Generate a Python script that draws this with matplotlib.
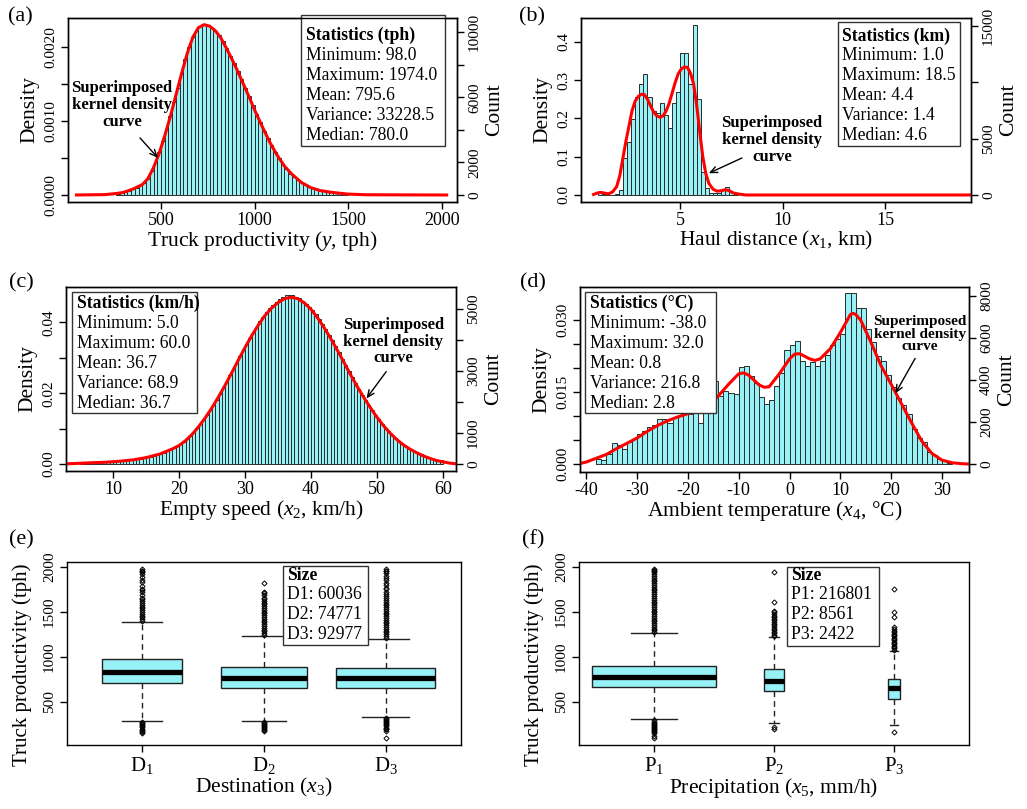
import numpy as np
import matplotlib
matplotlib.use("Agg")
import matplotlib.pyplot as plt
from matplotlib.patches import Rectangle

plt.rcParams['font.family'] = ['Liberation Serif', 'DejaVu Serif']
plt.rcParams['mathtext.fontset'] = 'custom'
plt.rcParams['mathtext.rm'] = 'Liberation Serif'
plt.rcParams['mathtext.it'] = 'Liberation Serif:italic'
plt.rcParams['mathtext.bf'] = 'Liberation Serif:bold'
plt.rcParams['axes.unicode_minus'] = False
plt.rcParams['axes.linewidth'] = 1.0

# sample sizes
dest_names = ['D$_1$', 'D$_2$', 'D$_3$']
dest_sizes = [60036, 74771, 92977]
prec_names = ['P$_1$', 'P$_2$', 'P$_3$']
prec_sizes = [216801, 8561, 2422]
n_total = sum(dest_sizes)

# (a) truck productivity, bins of 20 tph from 260
prod_bin_start = 260
prod_bin_width = 20
prod_density = np.array([
    0.2, 0.3, 0.4, 0.6, 0.8, 1.0, 1.3, 1.6, 2.2, 3.2, 4.4, 5.8, 7.3, 8.9, 10.7, 12.6,
    14.5, 16.4, 18.3, 20.0, 21.3, 22.2, 22.8, 23.0, 22.9, 22.6, 22.2, 21.6, 20.8, 19.8,
    18.8, 17.8, 16.7, 15.6, 14.5, 13.3, 12.1, 10.9, 9.8, 8.7, 7.7, 6.7, 5.8, 5.0, 4.2,
    3.5, 2.9, 2.4, 2.0, 1.7, 1.4, 1.1, 0.9, 0.75, 0.6, 0.5, 0.4, 0.35, 0.3, 0.25, 0.2,
    0.15]) * 1e-4
prod_kde_x = [40, 200, 260, 300, 350, 400, 430, 460, 490, 520, 550, 580, 610, 640, 670,
              700, 730, 760, 790, 820, 850, 880, 910, 940, 970, 1000, 1040, 1080, 1120,
              1160, 1200, 1250, 1300, 1350, 1400, 1450, 1500, 1600, 2035]
prod_kde_y = np.array([0, 0.05, 0.2, 0.35, 0.8, 1.4, 2.2, 3.7, 5.6, 8.0, 10.6, 13.5, 16.4,
                       19.1, 21.3, 22.6, 23.0, 22.8, 22.2, 21.2, 19.8, 18.3, 16.7, 15.0,
                       13.3, 11.5, 9.3, 7.2, 5.4, 3.9, 2.8, 1.7, 1.0, 0.6, 0.4, 0.25, 0.12,
                       0.03, 0]) * 1e-4
prod_stats = ['Minimum: 98.0', 'Maximum: 1974.0', 'Mean: 795.6',
              'Variance: 33228.5', 'Median: 780.0']

# (b) haul distance, bins of 0.2 km from 1.0
haul_bin_start = 1.0
haul_bin_width = 0.2
haul_density = [0.008, 0.002, 0.001, 0.001, 0.003, 0.012, 0.096, 0.139, 0.198, 0.257,
                0.289, 0.316, 0.257, 0.22, 0.215, 0.24, 0.21, 0.175, 0.24, 0.27, 0.37,
                0.37, 0.29, 0.445, 0.25, 0.06, 0.017, 0.006, 0.004, 0.004, 0.012, 0.022,
                0.007, 0.003]
haul_kde_x = [0.7, 0.9, 1.1, 1.3, 1.5, 1.7, 1.9, 2.05, 2.2, 2.35, 2.5, 2.65, 2.8, 2.95,
              3.1, 3.25, 3.4, 3.55, 3.7, 3.85, 4.0, 4.15, 4.3, 4.45, 4.6, 4.75, 4.9, 5.05,
              5.2, 5.35, 5.5, 5.65, 5.8, 5.95, 6.1, 6.25, 6.4, 6.6, 6.8, 7.0, 7.2, 7.4,
              7.6, 7.9, 8.2, 19.18]
haul_kde_y = [0.0, 0.004, 0.007, 0.005, 0.003, 0.008, 0.022, 0.05, 0.095, 0.14, 0.18,
              0.22, 0.245, 0.257, 0.263, 0.262, 0.25, 0.233, 0.217, 0.207, 0.203, 0.206,
              0.218, 0.238, 0.265, 0.293, 0.316, 0.329, 0.334, 0.333, 0.318, 0.29, 0.235,
              0.165, 0.1, 0.055, 0.03, 0.015, 0.01, 0.011, 0.014, 0.011, 0.005, 0.002,
              0.0, 0.0]
haul_stats = ['Minimum: 1.0', 'Maximum: 18.5', 'Mean: 4.4', 'Variance: 1.4', 'Median: 4.6']

# (c) empty speed, bins of 0.5 km/h from 5.0
speed_bin_start = 5.0
speed_bin_width = 0.5
speed_density = np.array([
    0.1, 0.2, 0.3, 0.35, 0.38, 0.4, 0.43, 0.46, 0.5, 0.55, 0.65, 0.75, 0.8, 0.9, 1.0,
    1.1, 1.2, 1.35, 1.5, 1.7, 1.9, 2.1, 2.3, 2.6, 2.9, 3.2, 3.6, 4.0, 4.5, 5.0, 5.6, 6.3,
    7.1, 8.0, 9.0, 10.1, 11.2, 12.5, 13.8, 15.2, 16.7, 18.2, 19.8, 21.5, 23.2, 25.0,
    26.8, 28.6, 30.4, 32.2, 33.9, 35.6, 37.2, 38.8, 40.3, 41.6, 42.9, 44.0, 45.0, 45.8,
    46.6, 47.1, 47.6, 47.8, 47.7, 47.3, 46.8, 46.1, 45.3, 44.4, 43.5, 42.3, 41.0, 39.6,
    38.1, 36.5, 34.9, 33.2, 31.5, 29.8, 28.1, 26.3, 24.6, 22.9, 21.2, 19.6, 18.1, 16.6,
    15.2, 13.9, 12.6, 11.4, 10.3, 9.2, 8.3, 7.4, 6.6, 5.9, 5.2, 4.6, 4.0, 3.5, 3.1, 2.7,
    2.3, 2.0, 1.7, 1.5, 1.2, 1.0]) * 1e-3
speed_kde_x = [3, 5, 7, 9, 11, 13, 15, 17, 19, 20, 21, 22, 23, 24, 25, 26, 27, 28, 29, 30,
               31, 32, 33, 34, 35, 36, 37, 38, 39, 40, 41, 42, 43, 44, 45, 46, 47, 48, 49,
               50, 51, 52, 53, 54, 55, 56, 57, 58, 59, 60, 61, 62]
speed_kde_y = np.array([0.05, 0.2, 0.38, 0.5, 0.78, 1.15, 1.8, 2.75, 4.25, 5.2, 6.6, 8.4,
                        10.6, 13.1, 15.9, 19.0, 22.3, 25.8, 29.4, 32.9, 36.2, 39.2, 41.9,
                        44.0, 45.6, 46.7, 47.1, 46.7, 45.5, 43.7, 41.3, 38.5, 35.4, 32.1,
                        28.7, 25.2, 21.9, 18.8, 15.9, 13.2, 10.8, 8.7, 6.9, 5.4, 4.2, 3.2,
                        2.3, 1.6, 1.0, 0.6, 0.25, 0.05]) * 1e-3
speed_stats = ['Minimum: 5.0', 'Maximum: 60.0', 'Mean: 36.7', 'Variance: 68.9', 'Median: 36.7']

# (d) ambient temperature, bins of 1 degC from -38
temp_bin_start = -38
temp_bin_width = 1
temp_density = np.array([
    1.0, 0.8, 2.0, 4.4, 3.9, 3.2, 4.6, 5.2, 6.2, 6.8, 7.8, 8.2, 9.3, 9.3, 8.5, 9.8, 10.0,
    10.4, 10.5, 10.6, 8.6, 10.8, 11.6, 17.4, 14.2, 15.2, 14.7, 14.5, 20.2, 20.5, 18.4,
    16.8, 14.0, 12.5, 13.4, 16.2, 19.0, 23.8, 24.8, 25.6, 21.5, 20.4, 21.2, 20.5, 21.4,
    22.8, 24.9, 26.0, 27.0, 35.6, 35.6, 32.6, 32.6, 28.2, 25.5, 22.5, 21.4, 18.6, 16.1,
    13.8, 12.2, 10.4, 7.3, 5.4, 4.6, 2.6, 1.8, 1.1, 0.6, 0.3]) * 1e-3
temp_kde_x = [-41.2, -40, -38, -36, -34, -32, -30, -28, -26, -24, -22, -20, -18, -16, -14,
              -12, -10, -9, -8, -6, -5, -4, -2, 0, 1, 2, 4, 5, 6, 8, 10, 12, 12.5, 13, 14,
              16, 18, 20, 22, 24, 26, 28, 30, 32, 34, 35.3]
temp_kde_y = np.array([0.1, 0.4, 1.2, 2.0, 3.2, 4.3, 5.4, 6.8, 8.0, 9.0, 9.8, 10.5, 11.0,
                       12.0, 14.2, 16.6, 18.8, 19.0, 18.5, 16.5, 16.0, 16.1, 18.8, 21.9,
                       22.9, 23.0, 21.9, 21.6, 21.9, 24.0, 27.4, 31.2, 31.4, 31.2, 30.0,
                       25.4, 20.5, 16.6, 12.6, 8.6, 4.8, 2.2, 0.8, 0.25, 0.05, 0.0]) * 1e-3
temp_stats = ['Minimum: -38.0', 'Maximum: 32.0', 'Mean: 0.8', 'Variance: 216.8', 'Median: 2.8']

# (e) productivity by destination: whisker low, Q1, median, Q3, whisker high
dest_whislo = [293, 293, 337]
dest_q1 = [707, 656, 656]
dest_med = [837, 763, 770]
dest_q3 = [974, 893, 881]
dest_whishi = [1389, 1233, 1200]
dest_fliers = [
    [1400, 1420, 1440, 1460, 1480, 1500, 1520, 1540, 1560, 1580, 1600, 1620, 1640, 1660,
     1690, 1720, 1745, 1760, 1790, 1830, 1860, 1890, 1920, 1940, 1950, 1960, 1974,
     280, 268, 255, 242, 230, 218, 205, 192, 180, 168, 160],
    [1245, 1265, 1285, 1305, 1325, 1345, 1365, 1385, 1405, 1425, 1445, 1465, 1485, 1505,
     1525, 1545, 1565, 1585, 1605, 1625, 1640, 1660, 1690, 1715, 1725, 1826,
     282, 270, 258, 246, 234, 222, 210, 198, 186, 178],
    [1212, 1232, 1252, 1272, 1292, 1312, 1332, 1352, 1372, 1392, 1412, 1432, 1452, 1472,
     1492, 1512, 1532, 1552, 1572, 1592, 1612, 1632, 1652, 1672, 1700, 1725, 1750, 1770,
     1795, 1820, 1850, 1880, 1905, 1930, 1950, 1960, 1974,
     325, 312, 300, 288, 276, 264, 252, 240, 228, 216, 205, 196, 180, 96]]

# (f) productivity by precipitation class
prec_whislo = [307, 270, 244]
prec_q1 = [663, 622, 537]
prec_med = [781, 737, 659]
prec_q3 = [900, 863, 752]
prec_whishi = [1263, 1219, 1070]
prec_fliers = [
    [1275, 1295, 1315, 1335, 1355, 1375, 1395, 1415, 1435, 1455, 1475, 1495, 1515, 1535,
     1555, 1575, 1595, 1615, 1635, 1655, 1675, 1700, 1720, 1740, 1760, 1780, 1800, 1820,
     1840, 1860, 1880, 1900, 1920, 1940, 1955, 1965, 1974,
     295, 283, 271, 259, 247, 235, 223, 211, 199, 187, 175, 163, 152, 120, 98],
    [1230, 1245, 1262, 1280, 1298, 1316, 1334, 1352, 1370, 1388, 1406, 1424, 1442, 1460,
     1478, 1496, 1510, 1615, 1948, 226, 205],
    [1080, 1095, 1110, 1125, 1140, 1155, 1170, 1185, 1200, 1215, 1230, 1245, 1260, 1275,
     1290, 1310, 1335, 1448, 1504, 1752, 170]]

CYAN = '#96f2f7'
W, H = 1027, 809
fig = plt.figure(figsize=(W / 100, H / 100), dpi=100)


def add_ax(rect):
    l, t, r, b = rect
    return fig.add_axes([l / W, 1 - b / H, (r - l) / W, (b - t) / H])


def to_ax(rect, x, y):
    l, t, r, b = rect
    return (x - l) / (r - l), (b - y) / (b - t)


def info_box(ax, rect, box, text_x, first_y, step, title, lines, fs=12.7):
    x0, y1 = to_ax(rect, box[0], box[1])
    x1, y0 = to_ax(rect, box[2], box[3])
    ax.add_patch(Rectangle((x0, y0), x1 - x0, y1 - y0, transform=ax.transAxes,
                           facecolor='white', edgecolor='#333333', lw=1,
                           zorder=5, clip_on=False))
    tx = to_ax(rect, text_x, 0)[0]
    for i, s in enumerate([title] + lines):
        ty = to_ax(rect, 0, first_y + i * step)[1]
        ax.text(tx, ty, s, transform=ax.transAxes, ha='left', va='center',
                fontsize=fs, fontweight='bold' if i == 0 else 'normal', zorder=6)


def style_axis(ax, xsize=13):
    ax.tick_params(direction='out', length=5, width=1, labelsize=11, pad=2)
    ax.tick_params(axis='x', labelsize=xsize)
    ax.tick_params(axis='y', labelrotation=90, pad=3)
    plt.setp(ax.get_yticklabels(), va='center')


def hist_panel(rect, start, width, dens, kx, ky, xlim, ylim, xticks, yticks, ylabs,
               cnt_scale, cticks, clabs, xlabel, letter, letter_xy):
    ax = add_ax(rect)
    dens = np.asarray(dens)
    left = start + width * np.arange(len(dens))
    ax.bar(left, dens, width=width, align='edge', color=CYAN, edgecolor='#2b2b2b',
           linewidth=0.7, zorder=2)
    ax.plot(kx, ky, color='red', lw=2.2, zorder=3, solid_capstyle='butt')
    ax.set_xlim(*xlim)
    ax.set_ylim(*ylim)
    ax.set_xticks(xticks)
    ax.set_yticks(yticks)
    ax.set_yticklabels(ylabs)
    ax.set_xlabel(xlabel, fontsize=15.5, labelpad=0)
    ax.set_ylabel('Density', fontsize=15.5, labelpad=3)
    style_axis(ax)
    ax2 = ax.twinx()
    ax2.set_ylim(ylim[0] * cnt_scale, ylim[1] * cnt_scale)
    ax2.set_yticks(cticks)
    ax2.set_yticklabels(clabs)
    ax2.set_ylabel('Count', fontsize=15.5, labelpad=3)
    style_axis(ax2)
    fig.text(letter_xy[0] / W, 1 - letter_xy[1] / H, letter, fontsize=16,
             ha='center', va='center')
    return ax


def curve_note(ax, text_xy, start, tip, fs=12, ls=1.05):
    ax.text(text_xy[0], text_xy[1], 'Superimposed\nkernel density\ncurve', ha='center',
            va='center', fontsize=fs, fontweight='bold', linespacing=ls, zorder=6)
    ax.annotate('', xy=tip, xytext=start,
                arrowprops=dict(arrowstyle='->,head_length=0.5,head_width=0.22',
                                lw=1, color='black', shrinkA=0, shrinkB=0), zorder=6)


# (a)
rect_a = (68, 18, 457, 202)
ax_a = hist_panel(rect_a, prod_bin_start, prod_bin_width, prod_density, prod_kde_x,
                  prod_kde_y, (3, 2082), (-0.0000946, 0.00239), [500, 1000, 1500, 2000],
                  [0, 0.0005, 0.001, 0.0015, 0.002], ['0.0000', '', '0.0010', '', '0.0020'],
                  n_total * prod_bin_width, [0, 2000, 4000, 6000, 8000, 10000],
                  ['0', '2000', '', '6000', '', '10000'],
                  'Truck productivity ($\\mathit{y}$, tph)', '(a)', (20, 17))
info_box(ax_a, rect_a, (301, 15, 445, 146), 306, 35, 20, 'Statistics (tph)', prod_stats)
curve_note(ax_a, (292, 0.001216), (388, 0.00077), (484, 0.0005))

# (b)
rect_b = (581, 18, 971, 202)
ax_b = hist_panel(rect_b, haul_bin_start, haul_bin_width, haul_density, haul_kde_x,
                  haul_kde_y, (0.16, 19.18), (-0.0183, 0.462), [5, 10, 15],
                  [0, 0.1, 0.2, 0.3, 0.4], ['0.0', '0.1', '0.2', '0.3', '0.4'],
                  34000, [0, 5000, 10000, 15000], ['0', '5000', '', '15000'],
                  'Haul distance ($\\mathit{x_1}$, km)', '(b)', (532, 17))
info_box(ax_b, rect_b, (838, 22, 960, 146), 842, 36, 20, 'Statistics (km)', haul_stats)
curve_note(ax_b, (9.47, 0.1436), (8.01, 0.0966), (6.39, 0.0567))

# (c)
rect_c = (66, 287, 456, 471)
ax_c = hist_panel(rect_c, speed_bin_start, speed_bin_width, speed_density, speed_kde_x,
                  speed_kde_y, (2.88, 61.97), (-0.00198, 0.05), [10, 20, 30, 40, 50, 60],
                  [0, 0.01, 0.02, 0.03, 0.04], ['0.00', '', '0.02', '', '0.04'],
                  n_total * speed_bin_width, [0, 1000, 2000, 3000, 4000, 5000],
                  ['0', '1000', '', '3000', '', '5000'],
                  'Empty speed ($\\mathit{x_2}$, km/h)', '(c)', (21, 283))
info_box(ax_c, rect_c, (72, 292, 197, 413), 77, 303, 20, 'Statistics (km/h)', speed_stats)
curve_note(ax_c, (52.5, 0.0345), (51.4, 0.0261), (48.4, 0.0185))

# (d)
rect_d = (580, 287, 969, 472)
ax_d = hist_panel(rect_d, temp_bin_start, temp_bin_width, temp_density, temp_kde_x,
                  temp_kde_y, (-41.2, 35.3), (-0.00167, 0.0369),
                  [-40, -30, -20, -10, 0, 10, 20, 30],
                  [0, 0.005, 0.01, 0.015, 0.02, 0.025, 0.03],
                  ['0.000', '', '', '0.015', '', '', '0.030'],
                  n_total * temp_bin_width, [0, 2000, 4000, 6000, 8000],
                  ['0', '2000', '4000', '6000', '8000'],
                  'Ambient temperature ($\\mathit{x_4}$, °C)', '(d)', (533, 283))
info_box(ax_d, rect_d, (585, 292, 716, 413), 590, 303, 20, 'Statistics (°C)', temp_stats)
curve_note(ax_d, (25.7, 0.0271), (24.7, 0.022), (20.8, 0.0147), fs=11, ls=0.95)


def box_panel(rect, names, sizes, lo, q1, med, q3, hi, fliers, widths, caps, xlim,
              xlabel, label_x, letter, letter_xy, box, text_x, code):
    ax = add_ax(rect)
    stats = []
    for i in range(len(names)):
        stats.append(dict(whislo=lo[i], q1=q1[i], med=med[i], q3=q3[i], whishi=hi[i],
                          fliers=fliers[i]))
    ax.bxp(stats, positions=[1, 2, 3], widths=widths, capwidths=caps, patch_artist=True,
           boxprops=dict(facecolor=CYAN, edgecolor='#222222', lw=1),
           whiskerprops=dict(color='#222222', lw=1, linestyle=(0, (4, 3))),
           capprops=dict(color='#222222', lw=1),
           medianprops=dict(color='black', lw=3.8, solid_capstyle='butt'),
           flierprops=dict(marker='D', markersize=2.6, markerfacecolor='none',
                           markeredgecolor='black', markeredgewidth=0.7))
    ax.set_xlim(*xlim)
    ax.set_ylim(22, 2055)
    ax.set_xticks([1, 2, 3])
    ax.set_xticklabels(names)
    ax.set_yticks([500, 1000, 1500, 2000])
    ax.set_xlabel(xlabel, fontsize=15.5, labelpad=0)
    ax.set_ylabel('Truck productivity (tph)', fontsize=15)
    l, t, r, b = rect
    ax.yaxis.set_label_coords((label_x - l) / (r - l), (b - 665) / (b - t))
    style_axis(ax, xsize=15)
    lines = ['%s%d: %d' % (code, i + 1, s) for i, s in enumerate(sizes)]
    info_box(ax, rect, box, text_x, 575, 19.7, 'Size', lines)
    fig.text(letter_xy[0] / W, 1 - letter_xy[1] / H, letter, fontsize=16,
             ha='center', va='center')
    return ax


box_panel((67, 562, 461, 745), dest_names, dest_sizes, dest_whislo, dest_q1, dest_med,
          dest_q3, dest_whishi, dest_fliers, [0.657, 0.71, 0.81], [0.33, 0.36, 0.39],
          (0.384, 3.62), 'Destination ($\\mathit{x_3}$)', 32, '(e)', (21, 540),
          (283, 566, 368, 645), 287, 'D')
box_panel((579, 562, 969, 745), prec_names, prec_sizes, prec_whislo, prec_q1, prec_med,
          prec_q3, prec_whishi, prec_fliers, [1.03, 0.16, 0.092], [0.38, 0.085, 0.065],
          (0.375, 3.625), 'Precipitation ($\\mathit{x_5}$, mm/h)', 544, '(f)', (533, 540),
          (787, 567, 879, 646), 791, 'P')

fig.savefig('out.png', dpi=100)
